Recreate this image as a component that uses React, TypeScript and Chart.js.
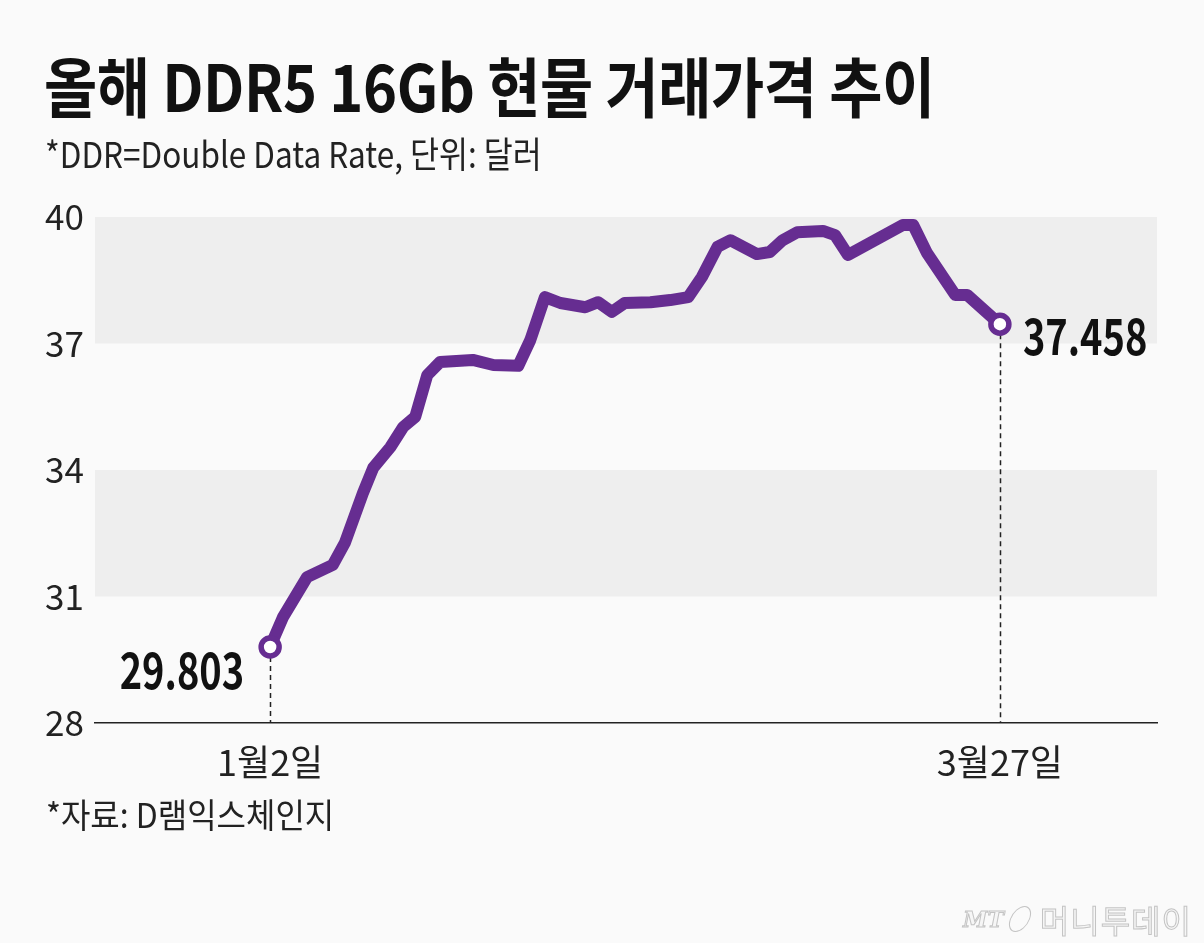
import React, { useEffect, useRef } from "react";
import { Chart, registerables } from "chart.js";

Chart.register(...registerables);

// ---- data (day of year 2024, DDR5 16Gb spot price in USD) ----
const dayOfYear = [
  2, 3.5, 6.3, 9.3, 10.7, 12.8, 14.0, 16.0, 17.5, 18.9, 20.3, 21.8, 25.6, 28.0,
  30.9, 32.3, 34.0, 35.8, 38.7, 40.2, 41.8, 43.3, 46.3, 48.6, 50.7, 52.3, 54.1,
  55.6, 58.7, 60.2, 61.7, 63.4, 66.4, 67.8, 69.3, 75.7, 76.9, 78.5, 81.8, 83.2, 87,
];
const price = [
  29.803, 30.51, 31.46, 31.75, 32.27, 33.45, 34.05, 34.54, 35.02, 35.26, 36.25,
  36.56, 36.61, 36.49, 36.47, 37.08, 38.1, 37.96, 37.86, 37.98, 37.75, 37.96,
  37.98, 38.03, 38.1, 38.58, 39.29, 39.45, 39.12, 39.17, 39.45, 39.64, 39.67,
  39.57, 39.1, 39.81, 39.81, 39.15, 38.15, 38.15, 37.458,
];
const yTicks = [28, 31, 34, 37, 40];
const xTickDays = [2, 87];
const xTickLabels = ["1월2일", "3월27일"];
const shadedBands = [
  [31, 34],
  [37, 40],
];
const startLabel = "29.803";
const endLabel = "37.458";
const title = "올해 DDR5 16Gb 현물 거래가격 추이";
const subtitle = "*DDR=Double Data Rate, 단위: 달러";
const source = "*자료: D램익스체인지";

const FONT = "'Noto Sans CJK KR', 'Noto Sans', sans-serif";
const PURPLE = "#662d91";
const BG = "#fafafa";

const decorPlugin = {
  id: "decor",
  beforeDraw(chart: any) {
    const { ctx, width, height } = chart;
    ctx.save();
    ctx.fillStyle = BG;
    ctx.fillRect(0, 0, width, height);
    ctx.restore();
  },
  beforeDatasetsDraw(chart: any) {
    const { ctx, chartArea, scales } = chart;
    const y = scales.y;
    const x = scales.x;
    ctx.save();
    ctx.fillStyle = "#eeeeee";
    shadedBands.forEach(([lo, hi]) => {
      const top = y.getPixelForValue(hi);
      const bot = y.getPixelForValue(lo);
      ctx.fillRect(chartArea.left, top, chartArea.right - chartArea.left, bot - top);
    });
    // dashed drop lines
    ctx.strokeStyle = "#222";
    ctx.lineWidth = 1.5;
    ctx.setLineDash([5, 4]);
    [0, price.length - 1].forEach((i) => {
      const px = Math.round(x.getPixelForValue(dayOfYear[i])) + 0.5;
      const py = y.getPixelForValue(price[i]);
      ctx.beginPath();
      ctx.moveTo(px, py + 10);
      ctx.lineTo(px, chartArea.bottom);
      ctx.stroke();
    });
    ctx.restore();
  },
  afterDatasetsDraw(chart: any) {
    const { ctx, scales } = chart;
    const x = scales.x;
    const y = scales.y;
    ctx.save();
    ctx.fillStyle = "#111";
    ctx.font = `bold 50px ${FONT}`;
    ctx.textBaseline = "middle";
    const drawScaled = (text: string, px: number, py: number, align: "left" | "right") => {
      ctx.save();
      ctx.translate(px, py);
      ctx.scale(0.76, 1);
      ctx.textAlign = align;
      ctx.fillText(text, 0, 0);
      ctx.restore();
    };
    const i0 = 0;
    const i1 = price.length - 1;
    drawScaled(
      startLabel,
      x.getPixelForValue(dayOfYear[i0]) - 26,
      y.getPixelForValue(price[i0]) + 23,
      "right"
    );
    drawScaled(
      endLabel,
      x.getPixelForValue(dayOfYear[i1]) + 23,
      y.getPixelForValue(price[i1]) + 12,
      "left"
    );
    ctx.restore();
  },
};

function ChartCanvas() {
  const ref = useRef<HTMLCanvasElement | null>(null);
  useEffect(() => {
    if (!ref.current) return;
    const last = price.length - 1;
    const chart = new Chart(ref.current, {
      type: "line",
      data: {
        datasets: [
          {
            data: dayOfYear.map((d, i) => ({ x: d, y: price[i] })),
            borderColor: PURPLE,
            borderWidth: 12,
            borderJoinStyle: "round",
            borderCapStyle: "round",
            tension: 0,
            pointRadius: (c: any) => (c.dataIndex === 0 || c.dataIndex === last ? 9 : 0),
            pointHoverRadius: 0,
            pointBackgroundColor: "#ffffff",
            pointBorderColor: PURPLE,
            pointBorderWidth: 5.5,
            clip: false as any,
          } as any,
        ],
      },
      options: {
        animation: false,
        responsive: false,
        devicePixelRatio: 1,
        events: [],
        layout: { padding: { left: 45, right: 47, top: 217, bottom: 160 } },
        plugins: { legend: { display: false }, tooltip: { enabled: false } },
        scales: {
          x: {
            type: "linear",
            min: -18.4,
            max: 105.3,
            grid: { display: false, drawTicks: false },
            border: { display: true, color: "#222", width: 1.5 },
            afterBuildTicks: (s: any) => {
              s.ticks = xTickDays.map((v) => ({ value: v }));
            },
            afterFit: (s: any) => {
              s.height = 60;
            },
            ticks: {
              autoSkip: false,
              maxRotation: 0,
              padding: 18,
              color: "#222",
              font: { family: FONT, size: 36 },
              callback: (_v: any, i: number) => xTickLabels[i],
            },
          },
          y: {
            type: "linear",
            min: 28,
            max: 40,
            grid: { display: false, drawTicks: false },
            border: { display: false },
            afterBuildTicks: (s: any) => {
              s.ticks = yTicks.map((v) => ({ value: v }));
            },
            afterFit: (s: any) => {
              s.width = 50;
            },
            ticks: {
              crossAlign: "far",
              color: "#222",
              font: { family: FONT, size: 35 },
            },
          },
        },
      },
      plugins: [decorPlugin],
    } as any);
    return () => chart.destroy();
  }, []);
  return (
    <canvas
      ref={ref}
      width={1204}
      height={943}
      style={{ position: "absolute", left: 0, top: 0, width: 1204, height: 943 }}
    />
  );
}

export default function App() {
  return (
    <div
      style={{
        position: "fixed",
        left: 0,
        top: 0,
        width: 1204,
        height: 943,
        background: BG,
        overflow: "hidden",
        fontFamily: FONT,
      }}
    >
      <ChartCanvas />
      <div
        style={{
          position: "absolute",
          left: 44,
          top: 52,
          fontSize: 65,
          lineHeight: "65px",
          fontWeight: 700,
          color: "#111",
          whiteSpace: "nowrap",
          transform: "scaleX(0.89)",
          transformOrigin: "left top",
          letterSpacing: -0.5,
        }}
      >
        {title}
      </div>
      <div
        style={{
          position: "absolute",
          left: 45,
          top: 132,
          fontSize: 36,
          lineHeight: "40px",
          color: "#222",
          whiteSpace: "nowrap",
          transform: "scaleX(0.875)",
          transformOrigin: "left top",
        }}
      >
        {subtitle}
      </div>
      <div
        style={{
          position: "absolute",
          left: 46,
          top: 795,
          fontSize: 34,
          lineHeight: "38px",
          color: "#222",
          whiteSpace: "nowrap",
          transform: "scaleX(0.94)",
          transformOrigin: "left top",
        }}
      >
        {source}
      </div>
      <div
        style={{
          position: "absolute",
          right: 12,
          top: 896,
          display: "flex",
          alignItems: "center",
          gap: 6,
          color: "#f6f6f6",
          WebkitTextStroke: "1px #c4c4c4",
          whiteSpace: "nowrap",
        }}
      >
        <span style={{ fontStyle: "italic", fontWeight: 700, fontSize: 22, fontFamily: "'DejaVu Serif', serif" }}>
          MT
        </span>
        <span
          style={{
            display: "inline-block",
            width: 18,
            height: 24,
            border: "1.5px solid #c4c4c4",
            borderRadius: "50%",
            transform: "skewX(-20deg)",
            marginRight: 4,
          }}
        />
        <span style={{ fontSize: 32, letterSpacing: 1 }}>머니투데이</span>
      </div>
    </div>
  );
}
